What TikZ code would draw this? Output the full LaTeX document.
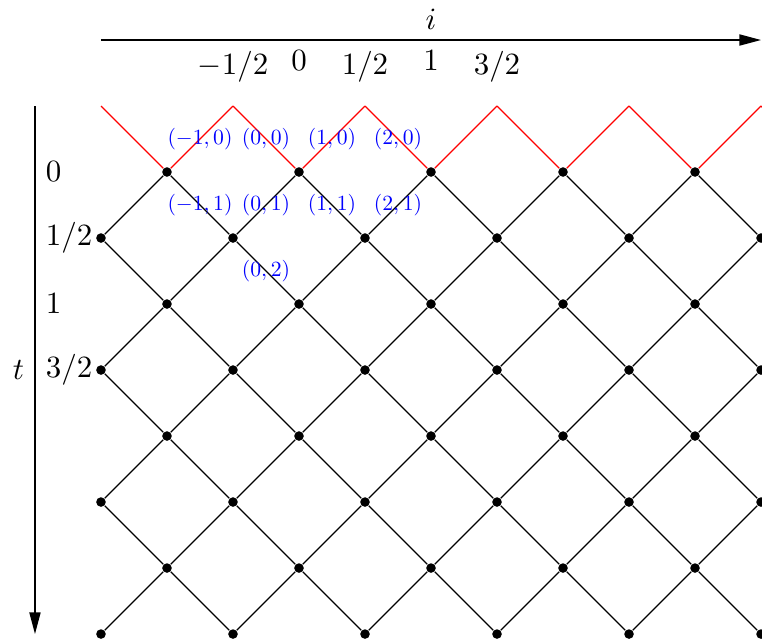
\documentclass[tikz,border=0pt]{standalone}
\usepackage{graphicx}
\usetikzlibrary{arrows.meta}
\newcommand{\smlab}[1]{\scalebox{0.7}{$#1$}}
\begin{document}
\begin{tikzpicture}[x=0.75cm,y=0.75cm,
  dot/.style={circle,fill=black,inner sep=0pt,minimum size=3.1pt},
  lat/.style={black,line width=0.4pt},
  zig/.style={red,line width=0.4pt},
  axis/.style={line width=0.45pt,-{Triangle[length=7pt,width=3.6pt]}},
  coordlab/.style={blue}]
\useasboundingbox (-1.530,-7.106) rectangle (10.015,2.606);
\clip (-1.530,-7.106) rectangle (10.015,2.606);
% lattice points
\foreach \r in {0,...,7}{
  \pgfmathtruncatemacro\s{mod(\r,2)}
  \foreach \k in {0,...,5}{
    \pgfmathtruncatemacro\x{2*\k+1-\s}
    \node[dot] (p\x-\r) at (\x,-\r) {};
  }}
% lattice edges
\foreach \r in {0,...,6}{
  \pgfmathtruncatemacro\s{mod(\r,2)}
  \pgfmathtruncatemacro\n{\r+1}
  \foreach \k in {0,...,5}{
    \pgfmathtruncatemacro\x{2*\k+1-\s}
    \pgfmathtruncatemacro\a{\x-1}
    \pgfmathtruncatemacro\b{\x+1}
    \ifnum\a>-1 \draw[lat] (p\x-\r) -- (p\a-\n); \fi
    \ifnum\b<12 \draw[lat] (p\x-\r) -- (p\b-\n); \fi
  }}
% red zigzag
\foreach \k in {0,...,6}{
  \pgfmathtruncatemacro\x{2*\k}
  \coordinate (q\x) at (\x,1);
}
\foreach \k in {0,...,5}{
  \pgfmathtruncatemacro\x{2*\k+1}
  \pgfmathtruncatemacro\a{2*\k}
  \pgfmathtruncatemacro\b{2*\k+2}
  \draw[zig] (q\a) -- (p\x-0) -- (q\b);
}
% i axis
\coordinate (ia) at (0,2);
\coordinate (ib) at (10,2);
\draw[axis] (ia) -- (ib);
\node[above] (ilab) at (5,2) {$i$};
\node[below] (im) at (2,2) {$-1/2$};
\node[below] (i0) at (3,2) {$0$};
\node[below] (ih) at (4,2) {$1/2$};
\node[below] (i1) at (5,2) {$1$};
\node[below] (ith) at (6,2) {$3/2$};
% t axis
\coordinate (ta) at (-1,1);
\coordinate (tb) at (-1,-7);
\draw[axis] (ta) -- (tb);
\node[left] (tlab) at (-1,-3) {$t$};
\node[right] (t0) at (-1,0) {$0$};
\node[right] (th) at (-1,-1) {$1/2$};
\node[right] (t1) at (-1,-2) {$1$};
\node[right] (tth) at (-1,-3) {$3/2$};
% blue coordinate labels
\node[coordlab] (c1) at (1.5,0.5) {\smlab{(-1,0)}};
\node[coordlab] (c2) at (2.5,0.5) {\smlab{(0,0)}};
\node[coordlab] (c3) at (3.5,0.5) {\smlab{(1,0)}};
\node[coordlab] (c4) at (4.5,0.5) {\smlab{(2,0)}};
\node[coordlab] (c5) at (1.5,-0.5) {\smlab{(-1,1)}};
\node[coordlab] (c6) at (2.5,-0.5) {\smlab{(0,1)}};
\node[coordlab] (c7) at (3.5,-0.5) {\smlab{(1,1)}};
\node[coordlab] (c8) at (4.5,-0.5) {\smlab{(2,1)}};
\node[coordlab] (c9) at (2.5,-1.5) {\smlab{(0,2)}};
\end{tikzpicture}
\end{document}
